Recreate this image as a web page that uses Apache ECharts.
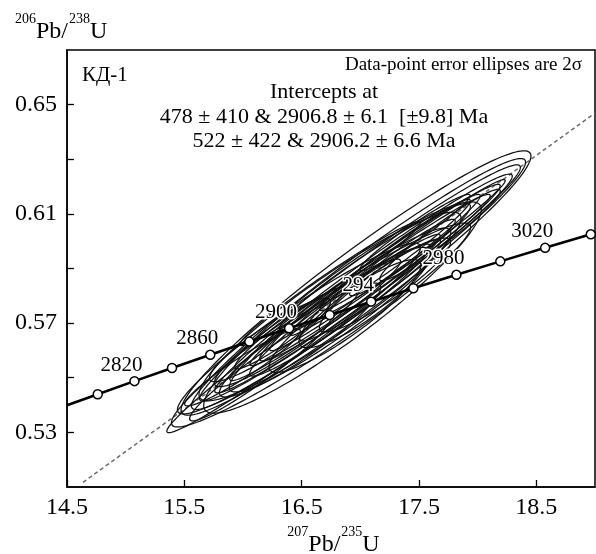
<!DOCTYPE html>
<html><head><meta charset="utf-8">
<script src="https://cdn.jsdelivr.net/npm/echarts@6/dist/echarts.min.js"></script>
<style>html,body{margin:0;padding:0;background:#fff}#c{width:596px;height:554px}</style>
</head><body><div id="c"></div>
<script>
// ---- axis ticks ----
const xTicks = [14.5, 15.5, 16.5, 17.5, 18.5];
const yTicks = [0.53, 0.55, 0.57, 0.59, 0.61, 0.63, 0.65];
const yTickLabels = [0.53, 0.57, 0.61, 0.65];

// ---- concordia (ages in Ma) ----
const concAges = [2800, 2820, 2840, 2860, 2880, 2900, 2920, 2940, 2960, 2980, 3000, 3020, 3040];
const concX = [14.762, 15.075, 15.395, 15.721, 16.054, 16.393, 16.739, 17.092, 17.452, 17.819, 18.193, 18.575, 18.964];
const concY = [0.54396, 0.54876, 0.55357, 0.55840, 0.56324, 0.56810, 0.57297, 0.57786, 0.58276, 0.58768, 0.59261, 0.59756, 0.60253];
const concLabels = ['', '2820', '', '2860', '', '2900', '', '294', '', '2980', '', '3020', ''];
const curveStart = [14.5, 0.53995];
const curveEnd = [19.0, 0.60298];

// ---- discordia ----
const discX = [14.636, 19.0];
const discY = [0.5117, 0.6469];

// ---- error ellipses (centre, 2-sigma, correlation) ----
const ellCX  = [16.963, 16.984, 16.997, 17.027, 17.040, 17.083, 16.516, 16.665, 16.477, 16.742, 16.848, 16.145, 16.486, 16.827, 17.125, 17.317, 17.083, 16.742, 17.296, 16.401, 17.359, 16.869, 17.210, 16.742, 17.466, 15.996, 16.230, 16.827, 17.125, 17.040, 16.379, 17.679];
const ellCY  = [0.58469, 0.58432, 0.58469, 0.58451, 0.58487, 0.58579, 0.56620, 0.56931, 0.56803, 0.57609, 0.57572, 0.55320, 0.56382, 0.57480, 0.58853, 0.59403, 0.58213, 0.57480, 0.59494, 0.56822, 0.59403, 0.57261, 0.58396, 0.58451, 0.60318, 0.55375, 0.56382, 0.57480, 0.59037, 0.57938, 0.56565, 0.60226];
const ellSX  = [1.491, 1.424, 1.367, 1.268, 1.152, 1.024, 1.165, 1.275, 1.036, 1.117, 1.183, 0.600, 0.687, 0.770, 0.897, 0.918, 0.600, 0.600, 0.641, 0.471, 0.450, 0.647, 0.559, 0.769, 0.470, 0.493, 0.516, 0.944, 0.813, 0.563, 0.623, 0.514];
const ellSY  = [0.04840, 0.04595, 0.04324, 0.04005, 0.03595, 0.03134, 0.03630, 0.03734, 0.03127, 0.03453, 0.03870, 0.01900, 0.02087, 0.02417, 0.02860, 0.02852, 0.01864, 0.01864, 0.02036, 0.01494, 0.01399, 0.02065, 0.01717, 0.02272, 0.01395, 0.01406, 0.01527, 0.03001, 0.02340, 0.01838, 0.01893, 0.01673];
const ellRho = [0.9596, 0.9713, 0.9781, 0.9813, 0.9844, 0.9847, 0.9851, 0.9590, 0.9512, 0.9330, 0.9272, 0.9582, 0.9249, 0.9649, 0.9821, 0.9874, 0.9584, 0.9584, 0.9751, 0.9539, 0.9583, 0.9017, 0.9116, 0.9805, 0.9667, 0.9505, 0.9156, 0.9437, 0.9547, 0.8731, 0.9275, 0.9623];

// ---- texts ----
const sampleName = 'КД-1';
const noteText = 'Data-point error ellipses are 2σ';
const interceptLines = ['Intercepts at', '478 ± 410 & 2906.8 ± 6.1  [±9.8] Ma', '522 ± 422 & 2906.2 ± 6.6 Ma'];
const yTitleParts = [['206', 1], ['Pb/', 0], ['238', 1], ['U', 0]];
const xTitleParts = [['207', 1], ['Pb/', 0], ['235', 1], ['U', 0]];

const FF = '"Liberation Serif", "Times New Roman", serif';
const chart = echarts.init(document.getElementById('c'), null, {renderer: 'canvas'});

const mctx = document.createElement('canvas').getContext('2d');
function tw(t, size) { mctx.font = size + 'px ' + FF; return mctx.measureText(t).width; }
const SUP = 14, MAIN = 24;
function titleEls(parts, startX, supY, mainY) {
  const els = []; let x = startX;
  parts.forEach(p => {
    const size = p[1] ? SUP : MAIN;
    els.push({type: 'text', x: x, y: p[1] ? supY : mainY, z: 100,
      style: {text: p[0], font: size + 'px ' + FF, fill: '#000', align: 'left', verticalAlign: 'middle', textAlign: 'left', textVerticalAlign: 'middle'}});
    x += tw(p[0], size) + (p[1] ? 0 : 1);
  });
  return els;
}
function totalW(parts) { return parts.reduce((s, p) => s + tw(p[0], p[1] ? SUP : MAIN) + (p[1] ? 0 : 1), 0); }

const graphics = [].concat(
  titleEls(yTitleParts, 15, 19, 32),
  titleEls(xTitleParts, 334 - totalW(xTitleParts) / 2, 532, 545),
  [
    {type: 'text', x: 82, y: 75, z: 100, style: {text: sampleName, font: '21px ' + FF, fill: '#000', align: 'left', verticalAlign: 'middle', textAlign: 'left', textVerticalAlign: 'middle'}},
    {type: 'text', x: 582, y: 65, z: 100, style: {text: noteText, font: '19px ' + FF, fill: '#000', align: 'right', verticalAlign: 'middle', textAlign: 'right', textVerticalAlign: 'middle'}}
  ],
  interceptLines.map((t, i) => ({type: 'text', x: 324, y: [92, 117, 141][i], z: 100,
    style: {text: t, font: '22px ' + FF, fill: '#000', align: 'center', verticalAlign: 'middle', textAlign: 'center', textVerticalAlign: 'middle'}}))
);

const option = {
  animation: false,
  backgroundColor: '#fff',
  grid: {left: 67, right: 1, top: 50, bottom: 67, show: true, borderColor: '#000', borderWidth: 1.5, backgroundColor: 'transparent'},
  xAxis: {
    type: 'value', min: 14.5, max: 19.0,
    axisLine: {show: true, lineStyle: {color: '#000', width: 1.5}},
    axisTick: {show: true, inside: true, length: 7, customValues: xTicks, lineStyle: {color: '#000', width: 1.3}},
    axisLabel: {show: true, customValues: xTicks, margin: 9, fontFamily: FF, fontSize: 24, color: '#000', formatter: v => v.toFixed(1)},
    splitLine: {show: false}
  },
  yAxis: {
    type: 'value', min: 0.51, max: 0.67,
    axisLine: {show: true, lineStyle: {color: '#000', width: 1.5}},
    axisTick: {show: true, inside: true, length: 7, customValues: yTicks, lineStyle: {color: '#000', width: 1.3}},
    axisLabel: {show: true, customValues: yTickLabels, margin: 10, fontFamily: FF, fontSize: 24, color: '#000', formatter: v => v.toFixed(2)},
    splitLine: {show: false}
  },
  graphic: graphics,
  series: [
    {
      type: 'line', z: 1, silent: true, symbol: 'none',
      data: discX.map((x, i) => [x, discY[i]]),
      lineStyle: {color: '#6a6a6a', width: 1.5, type: [4, 3]}
    },
    {
      type: 'custom', z: 2, silent: true,
      data: ellCX.map((x, i) => [x, ellCY[i], ellSX[i], ellSY[i], ellRho[i]]),
      encode: {x: 0, y: 1},
      renderItem: function (params, api) {
        const cx = api.value(0), cy = api.value(1), sx = api.value(2), sy = api.value(3), r = api.value(4);
        const k = Math.sqrt(1 - r * r);
        const pts = [];
        for (let i = 0; i < 180; i++) {
          const t = i / 180 * 2 * Math.PI;
          pts.push(api.coord([cx + sx * Math.cos(t), cy + sy * (r * Math.cos(t) + k * Math.sin(t))]));
        }
        return {type: 'polygon', shape: {points: pts}, style: {fill: 'none', stroke: '#111', lineWidth: 1.25}};
      }
    },
    {
      type: 'line', z: 3, silent: true, symbol: 'none',
      data: [curveStart].concat(concX.map((x, i) => [x, concY[i]]), [curveEnd]),
      lineStyle: {color: '#000', width: 2.6}
    },
    {
      type: 'scatter', z: 4, silent: true,
      data: concX.map((x, i) => [x, concY[i], concAges[i]]),
      symbol: 'circle', symbolSize: 9,
      itemStyle: {color: '#fff', borderColor: '#000', borderWidth: 1.5, opacity: 1},
      label: {
        show: true, position: 'inside', offset: [-13, -16],
        formatter: p => concLabels[p.dataIndex],
        fontFamily: FF, fontSize: 21, color: '#000',
        textBorderColor: '#fff', textBorderWidth: 3
      }
    }
  ]
};
chart.setOption(option);
</script></body></html>
